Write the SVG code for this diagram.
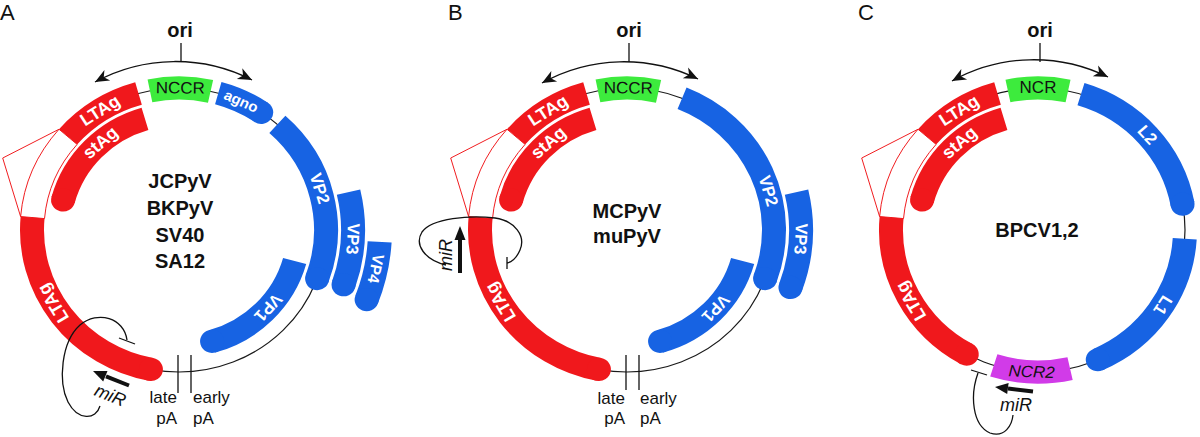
<svg xmlns="http://www.w3.org/2000/svg" width="1200" height="437" viewBox="0 0 1200 437">
<style>
.bb{fill:none;stroke:#1a1a1a;stroke-width:1.2}
.s{fill:none;stroke-width:24}
.r{stroke:#F0181C}
.b{stroke:#1763E3}
.g{stroke:#3DEB3D}
.m{stroke:#D13BE8}
.rf{fill:#F0181C}
.bf{fill:#1763E3}
.w{font-family:"Liberation Sans",Arial,sans-serif;font-weight:bold;fill:#fff;text-anchor:middle;dominant-baseline:central}
.d{font-family:"Liberation Sans",Arial,sans-serif;fill:#111;text-anchor:middle;dominant-baseline:central}
.intron{fill:#fff;stroke:#F0181C;stroke-width:1}
.tri{fill:none;stroke:#F0181C;stroke-width:1}
.ln{fill:none;stroke:#111;stroke-width:1.3}
.thick{fill:none;stroke:#111;stroke-width:4}
.hd{fill:#111}
.name{font-family:"Liberation Sans",Arial,sans-serif;font-weight:bold;font-size:20px;text-anchor:middle;fill:#111}
.pl{font-family:"Liberation Sans",Arial,sans-serif;font-size:22px;fill:#111}
.pa{font-family:"Liberation Sans",Arial,sans-serif;font-size:17px;fill:#111}
.mir{font-family:"Liberation Sans",Arial,sans-serif;font-size:18px;font-style:italic;fill:#111;text-anchor:middle}
</style>
<defs>
<marker id="ah" viewBox="-15 -7 17 14" refX="0" refY="0" markerWidth="17" markerHeight="14" markerUnits="userSpaceOnUse" orient="auto-start-reverse">
<path d="M0,0 L-14,-6 L-10,0 L-14,6 Z" fill="#111"/>
</marker>
</defs>

<!-- Panel labels -->
<g id="labels">
<text class="pl" x="0" y="20">A</text>
<text class="pl" x="448" y="20">B</text>
<text class="pl" x="858" y="20">C</text>
<text class="name" x="180" y="37">ori</text>
<text class="name" x="629" y="37">ori</text>
<text class="name" x="1040" y="37">ori</text>
<text class="name" x="180" y="188">JCPyV</text>
<text class="name" x="180" y="215">BKPyV</text>
<text class="name" x="180" y="242">SV40</text>
<text class="name" x="180" y="268">SA12</text>
<text class="name" x="627" y="218">MCPyV</text>
<text class="name" x="627" y="243">muPyV</text>
<text class="name" x="1037" y="237">BPCV1,2</text>
</g>

<!-- Panel A -->
<g id="panelA" transform="translate(179 230) scale(1 0.966)">
<circle id="A-backbone" class="bb" r="147"/>
<g id="A-NCCR"><circle class="s g" r="147" stroke-dasharray="61.06 2000" transform="rotate(-101.4)"/>
<text class="d" font-size="17" transform="rotate(-89.5) translate(147 0) rotate(90)">NCCR</text></g>
<g id="A-LTAg">
<circle class="s r" r="147" stroke-dasharray="84.67 2000" transform="rotate(-139)"/>
<path class="intron" d="M -120.0 -104.3 A 159 159 0 0 0 -158.4 -13.9 L -134.5 -11.8 A 135 135 0 0 1 -101.9 -88.6 Z"/>
<path class="tri" d="M -120.0 -104.3 L -176.3 -74.5 L -158.4 -13.9"/>
<circle class="s r" r="147" stroke-dasharray="215.5 2000" transform="rotate(101)"/>
<circle class="rf" cx="147" r="12" transform="rotate(101)"/>
<text class="w" font-size="18" transform="rotate(-122.5) translate(147 0) rotate(90)">LTAg</text>
<text class="w" font-size="18" transform="rotate(149) translate(147 0) rotate(90)">LTAg</text>
</g>
<g id="A-stAg">
<circle class="s r" r="120" stroke-dasharray="122.52 2000" transform="rotate(-165)"/>
<circle class="rf" cx="120" r="12" transform="rotate(-165)"/>
<text class="w" font-size="18" transform="rotate(-131) translate(120 0) rotate(90)">stAg</text>
</g>
<g id="A-agno">
<circle class="s b" r="147" stroke-dasharray="47.46 2000" transform="rotate(-74.5)"/>
<circle class="bf" cx="147" r="12" transform="rotate(-56)"/>
<text class="w" font-size="15" transform="rotate(-65) translate(147 0) rotate(90)">agno</text>
</g>
<g id="A-VP2">
<circle class="s b" r="147" stroke-dasharray="174.46 2000" transform="rotate(-48)"/>
<circle class="bf" cx="147" r="12" transform="rotate(20)"/>
<text class="w" font-size="17" transform="rotate(-17) translate(147 0) rotate(90)">VP2</text>
</g>
<g id="A-VP3">
<circle class="s b" r="174" stroke-dasharray="97.18 2000" transform="rotate(-13)"/>
<circle class="bf" cx="174" r="12" transform="rotate(19)"/>
<text class="w" font-size="17" transform="rotate(3) translate(174 0) rotate(90)">VP3</text>
</g>
<g id="A-VP4">
<circle class="s b" r="201" stroke-dasharray="61.39 2000" transform="rotate(3.5)"/>
<circle class="bf" cx="201" r="12" transform="rotate(21)"/>
<text class="w" font-size="16" transform="rotate(11.5) translate(201 0) rotate(90)">VP4</text>
</g>
<g id="A-VP1">
<circle class="s b" r="120" stroke-dasharray="122.52 2000" transform="rotate(15.5)"/>
<circle class="bf" cx="120" r="12" transform="rotate(74)"/>
<text class="w" font-size="17" transform="rotate(42) translate(120 0) rotate(90)">VP1</text>
</g>
</g>
<g id="A-pA">
<line class="ln" x1="178" y1="355" x2="178" y2="393"/>
<line class="ln" x1="191" y1="355" x2="191" y2="393"/>
<text class="pa" x="177" y="403" text-anchor="end">late</text>
<text class="pa" x="177" y="424" text-anchor="end">pA</text>
<text class="pa" x="193" y="403">early</text>
<text class="pa" x="193" y="424">pA</text>
</g>

<!-- Panel B -->
<g id="panelB" transform="translate(627 230) scale(1 0.966)">
<circle id="B-backbone" class="bb" r="147"/>
<g id="B-NCCR"><circle class="s g" r="147" stroke-dasharray="61.06 2000" transform="rotate(-101.4)"/>
<text class="d" font-size="17" transform="rotate(-89.5) translate(147 0) rotate(90)">NCCR</text></g>
<g id="B-LTAg">
<circle class="s r" r="147" stroke-dasharray="84.67 2000" transform="rotate(-139)"/>
<path class="intron" d="M -120.0 -104.3 A 159 159 0 0 0 -158.4 -13.9 L -134.5 -11.8 A 135 135 0 0 1 -101.9 -88.6 Z"/>
<path class="tri" d="M -120.0 -104.3 L -176.3 -74.5 L -158.4 -13.9"/>
<circle class="s r" r="147" stroke-dasharray="215.5 2000" transform="rotate(101)"/>
<circle class="rf" cx="147" r="12" transform="rotate(101)"/>
<text class="w" font-size="18" transform="rotate(-122.5) translate(147 0) rotate(90)">LTAg</text>
<text class="w" font-size="18" transform="rotate(149.5) translate(147 0) rotate(90)">LTAg</text>
</g>
<g id="B-stAg">
<circle class="s r" r="120" stroke-dasharray="122.52 2000" transform="rotate(-165)"/>
<circle class="rf" cx="120" r="12" transform="rotate(-165)"/>
<text class="w" font-size="18" transform="rotate(-131) translate(120 0) rotate(90)">stAg</text>
</g>
<g id="B-VP2">
<circle class="s b" r="147" stroke-dasharray="225.77 2000" transform="rotate(-68)"/>
<circle class="bf" cx="147" r="12" transform="rotate(20)"/>
<text class="w" font-size="17" transform="rotate(-16) translate(147 0) rotate(90)">VP2</text>
</g>
<g id="B-VP3">
<circle class="s b" r="174" stroke-dasharray="100.22 2000" transform="rotate(-13)"/>
<circle class="bf" cx="174" r="12" transform="rotate(20)"/>
<text class="w" font-size="17" transform="rotate(3) translate(174 0) rotate(90)">VP3</text>
</g>
<g id="B-VP1">
<circle class="s b" r="120" stroke-dasharray="122.52 2000" transform="rotate(15.5)"/>
<circle class="bf" cx="120" r="12" transform="rotate(74)"/>
<text class="w" font-size="17" transform="rotate(42.5) translate(120 0) rotate(90)">VP1</text>
</g>
</g>
<g id="B-pA">
<line class="ln" x1="626" y1="355" x2="626" y2="390"/>
<line class="ln" x1="639" y1="355" x2="639" y2="390"/>
<text class="pa" x="625" y="404" text-anchor="end">late</text>
<text class="pa" x="625" y="424" text-anchor="end">pA</text>
<text class="pa" x="640" y="404">early</text>
<text class="pa" x="640" y="424">pA</text>
</g>

<!-- Panel C -->
<g id="panelC" transform="translate(1038 230) scale(1 0.966)">
<circle id="C-backbone" class="bb" r="147"/>
<g id="C-NCR"><circle class="s g" r="147" stroke-dasharray="60.55 2000" transform="rotate(-101.8)"/>
<text class="d" font-size="17" transform="rotate(-90) translate(147 0) rotate(90)">NCR</text></g>
<g id="C-LTAg">
<circle class="s r" r="147" stroke-dasharray="84.67 2000" transform="rotate(-139)"/>
<path class="intron" d="M -120.0 -104.3 A 159 159 0 0 0 -158.4 -13.9 L -134.5 -11.8 A 135 135 0 0 1 -101.9 -88.6 Z"/>
<path class="tri" d="M -120.0 -104.3 L -176.3 -74.5 L -158.4 -13.9"/>
<circle class="s r" r="147" stroke-dasharray="169.33 2000" transform="rotate(119)"/>
<circle class="rf" cx="147" r="12" transform="rotate(119)"/>
<text class="w" font-size="18" transform="rotate(-122.5) translate(147 0) rotate(90)">LTAg</text>
<text class="w" font-size="18" transform="rotate(150) translate(147 0) rotate(90)">LTAg</text>
</g>
<g id="C-stAg">
<circle class="s r" r="120" stroke-dasharray="122.52 2000" transform="rotate(-165)"/>
<circle class="rf" cx="120" r="12" transform="rotate(-165)"/>
<text class="w" font-size="18" transform="rotate(-131) translate(120 0) rotate(90)">stAg</text>
</g>
<g id="C-L2">
<circle class="s b" r="147" stroke-dasharray="160.35 2000" transform="rotate(-73)"/>
<circle class="bf" cx="147" r="12" transform="rotate(-10.5)"/>
<text class="w" font-size="17" transform="rotate(-42) translate(147 0) rotate(90)">L2</text>
</g>
<g id="C-L1">
<circle class="s b" r="147" stroke-dasharray="160.35 2000" transform="rotate(3.5)"/>
<circle class="bf" cx="147" r="12" transform="rotate(66)"/>
<text class="w" font-size="17" transform="rotate(32) translate(147 0) rotate(90)">L1</text>
</g>
<g id="C-NCR2">
<circle class="s m" r="147" stroke-dasharray="77.22 2000" transform="rotate(77.4)"/>
<text class="d" font-size="17" font-style="italic" transform="rotate(92.5) translate(147 0) rotate(-90)">NCR2</text>
</g>
</g>

<!-- Connectors -->
<g id="connectors">
<path class="ln" d="M 181 43 L 181 62"/>
<path class="ln" d="M 95 82 A 168 168 0 0 1 252 80" marker-start="url(#ah)" marker-end="url(#ah)"/>
<path class="ln" d="M 629 43 L 629 62"/>
<path class="ln" d="M 542 83 A 168 168 0 0 1 698 79" marker-start="url(#ah)" marker-end="url(#ah)"/>
<path class="ln" d="M 1040 43 L 1040 62"/>
<path class="ln" d="M 952 81 A 168 168 0 0 1 1108 77" marker-start="url(#ah)" marker-end="url(#ah)"/>

<g id="A-miR">
<path class="ln" d="M 100 406 C 96 420, 78 421, 68 402 C 58 382, 61 342, 80 325 C 98 310, 124 318, 127 340"/>
<path class="ln" d="M 119 338 L 135 344"/>
<path class="thick" d="M 129 385.5 L 106 376.3"/>
<path class="hd" d="M 93 371 L 107.5 370.9 L 103.2 381.5 Z"/>
<text class="mir" transform="translate(108 401) rotate(22)">miR</text>
</g>
<g id="B-miR">
<path class="ln" d="M 446 265 C 425 260, 414 245, 422 232 C 432 218, 470 215, 495 218 C 515 221, 526 236, 520 250 C 517 257, 512 262, 507 263"/>
<path class="ln" d="M 507 257 L 507 269"/>
<path class="thick" d="M 460 273 L 460 238"/>
<path class="hd" d="M 460 226 L 465.5 240 L 454.5 240 Z"/>
<text class="mir" transform="translate(452 255) rotate(-90)">miR</text>
</g>
<g id="C-miR">
<path class="ln" d="M 978 373 C 970 395, 972 425, 990 433 C 1005 438, 1012 425, 1013 415"/>
<path class="ln" d="M 971 370 L 987 375"/>
<path class="thick" d="M 1033 391.5 L 1008 388.5"/>
<path class="hd" d="M 995 387 L 1008.6 383 L 1007.2 394 Z"/>
<text class="mir" x="1016" y="411">miR</text>
</g>
</g>
</svg>
